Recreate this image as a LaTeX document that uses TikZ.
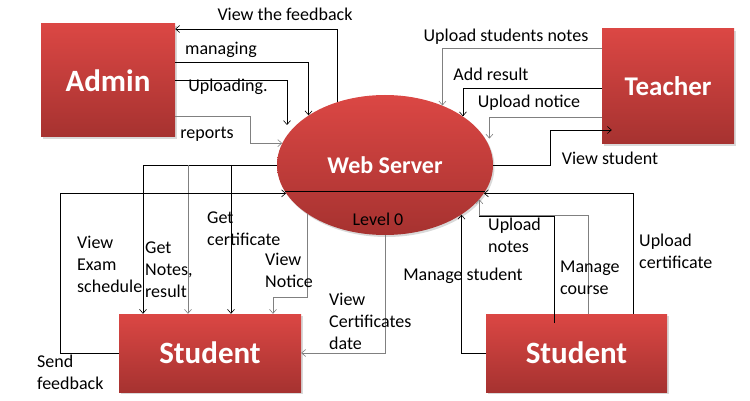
\documentclass[tikz,border=0pt]{standalone}
\usepackage{fontspec}
\setmainfont{Carlito}
\usetikzlibrary{shapes.geometric,shadows,arrows.meta}

\definecolor{boxtop}{RGB}{219,71,68}
\definecolor{boxbot}{RGB}{166,50,48}
\definecolor{flowgray}{RGB}{128,128,128}

\begin{document}
\begin{tikzpicture}[x=1pt,y=-1pt,>={Straight Barb[length=4pt,width=7pt]}]
\useasboundingbox (0,0) rectangle (750,401);

% entities and process
\begin{scope}[every node/.style={rectangle,inner sep=0pt,top color=boxtop,bottom color=boxbot,text=white,
	font=\bfseries\fontsize{31}{36}\selectfont,drop shadow={opacity=0.3,shadow xshift=1.5pt,shadow yshift=-2pt}}]
	\node[minimum width=134pt,minimum height=113pt] (admin) at (108,80.5) {Admin};
	\node[minimum width=132pt,minimum height=115pt,font=\bfseries\fontsize{27}{32}\selectfont] (teacher) at (668,86.5) {Teacher};
	\node[minimum width=182pt,minimum height=78pt] (stud1) at (210,353) {Student};
	\node[minimum width=181pt,minimum height=78pt] (stud2) at (576.5,353) {Student};
	\node[ellipse,minimum width=216pt,minimum height=140pt,font=\bfseries\fontsize{24}{28}\selectfont] (ws) at (385,165) {Web Server};
\end{scope}

\coordinate (notesfoot) at (554,323);

% flows
\begin{scope}[->,line width=0.6pt]
	\draw (ws.127) |- (admin.east |- 0,29);
	\draw (admin.east |- 0,62) -| (ws.147);
	\draw (admin.east) -| (287,125);
	\draw[flowgray] (admin.east |- 0,116) -- (250,116) |- (ws.168);

	\draw[flowgray] (teacher.west |- 0,48) -| (ws.46);
	\draw (teacher.west |- 0,88) -| (ws.32.5);
	\draw[flowgray,shorten >=8pt] (teacher.west |- 0,117) -| (ws.10);
	\draw[shorten >=-10pt] (ws.east) -- ++(57,0) |- (teacher.west |- 0,130);

	\draw (ws.west) -| (stud1.north -| 143,0);
	\draw[flowgray] (188,165) -- (stud1.north -| 188,0);
	\draw (231,165) -- (stud1.north -| 231,0);
	\draw[flowgray] (ws.212.5) -- (ws.212.5 |- 0,297) -| (stud1.north -| 273,0);
	\draw (stud1.west) -- (60,353) |- (ws.196);
	\draw[flowgray] (ws.south) |- (stud1.east);

	\draw (stud2.west) -| (ws.327.5);
	\draw[-] (notesfoot) |- (ws.340 |- 0,216);
	\draw[flowgray] (stud2.north -| 588,0) |- (ws.340 |- 0,215) -- (ws.340);
	\draw (stud2.north -| 633,0) |- (ws.344);
	\draw[-] (ws.195) -- (ws.345);
\end{scope}

% flow labels
\begin{scope}[every node/.style={inner sep=0pt,font=\fontsize{18}{22}\selectfont,align=left}]
	\node (lfeed) at (285,14) {View the feedback};
	\node (lmanage) at (221,50) {managing};
	\node (lupload) at (228,87) {Uploading.};
	\node (lreport) at (207,134) {reports};
	\node (lnotes) at (506,37) {Upload students notes};
	\node (lresult) at (491,74) {Add result};
	\node (lnotice) at (529,103) {Upload notice};
	\node (lviewst) at (610,158) {View student};
	\node (llevel) at (378,219) {Level 0};
	\node (lmstud) at (463,276) {Manage student};
	\node[anchor=north west] (lexam) at (77,236) {View\\Exam\\schedule};
	\node[anchor=north west] (lget) at (145,242) {Get\\Notes,\\result};
	\node[anchor=north west] (lcert) at (207,212) {Get\\certificate};
	\node[anchor=north west] (lvnot) at (265,253) {View\\Notice};
	\node[anchor=north west] (lvcert) at (329,293) {View\\Certificates\\date};
	\node[anchor=north west] (lsend) at (37,355) {Send\\feedback};
	\node[anchor=north west] (lunotes) at (488,218) {Upload\\notes};
	\node[anchor=north west] (lmcourse) at (560,261) {Manage\\course};
	\node[anchor=north west] (lucert) at (639,234) {Upload\\certificate};
\end{scope}
\end{tikzpicture}
\end{document}
